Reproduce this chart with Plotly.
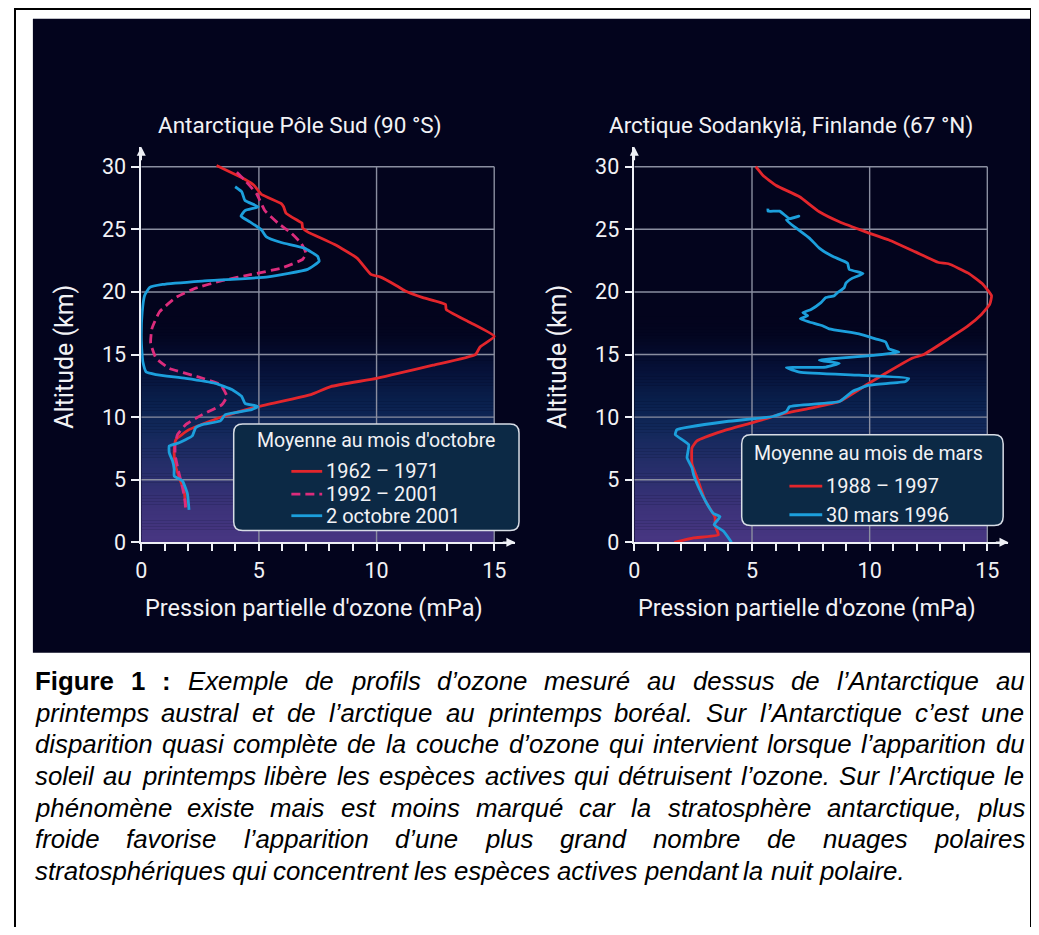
import plotly.graph_objects as go

# Page is 1039x935; the browser body keeps its default 8px margin,
# so the figure sits at page offset 8px.
OFF = 8
FW, FH = 1023, 919

# ---------------- data ----------------
panel_titles = ["Antarctique Pôle Sud (90 °S)", "Arctique Sodankylä, Finlande (67 °N)"]
x_title = "Pression partielle d'ozone (mPa)"
y_title = "Altitude (km)"
x_ticks = [0, 5, 10, 15]
y_ticks = [0, 5, 10, 15, 20, 25, 30]

legend_title_ant = "Moyenne au mois d'octobre"
legend_title_arc = "Moyenne au mois de mars"

ant_names = ["1962 – 1971", "1992 – 2001", "2 octobre 2001"]
arc_names = ["1988 – 1997", "30 mars 1996"]

ant_6271_x = [3.2, 4.4, 4.8, 5.1, 5.95, 6.05, 6.15, 6.65, 6.83, 6.86, 7.07, 8.2, 9.17, 9.76, 10.15,
              10.85, 11.2, 11.97, 12.93, 12.96, 13.93, 15.0, 14.4, 14.2, 12.4, 10.0, 8.05, 7.21, 4.97,
              3.29, 2.03, 1.47, 1.40, 1.44, 1.61, 1.82, 1.89]
ant_6271_y = [30.1, 29.0, 28.5, 27.8, 27.05, 26.8, 26.3, 25.7, 25.5, 25.1, 24.8, 23.8, 22.7, 21.4, 21.2,
              20.5, 20.1, 19.55, 19.0, 18.6, 17.6, 16.45, 15.6, 15.0, 14.15, 13.1, 12.44, 11.8, 10.85,
              9.93, 9.0, 8.2, 7.3, 6.24, 5.18, 4.13, 2.8]

ant_9201_x = [4.06, 4.41, 4.9, 5.25, 5.81, 6.37, 6.79, 7.0, 6.86, 5.95, 4.69, 3.43, 2.31, 1.47, 0.77,
              0.45, 0.40, 0.63, 1.19, 2.45, 3.36, 3.64, 3.43, 2.59, 1.89, 1.54, 1.44, 1.44, 1.58, 1.75,
              1.86, 1.89]
ant_9201_y = [29.55, 28.9, 27.85, 26.5, 25.5, 24.7, 23.9, 23.1, 22.6, 21.9, 21.4, 20.9, 20.3, 19.55, 18.4,
              17.05, 15.9, 14.7, 13.9, 13.2, 12.6, 11.65, 11.0, 10.2, 9.4, 8.6, 7.8, 7.0, 5.7, 4.4,
              3.3, 2.4]

ant_2001_x = [3.99, 4.27, 4.41, 4.97, 4.41, 4.24, 4.62, 5.11, 5.32, 5.95, 6.93, 7.49, 7.56, 7.07, 5.39,
              2.59, 0.91, 0.35, 0.14, 0.04, 0.0, 0.04, 0.07, 0.21, 0.63, 1.89, 3.15, 3.85, 4.27, 4.41,
              4.97, 4.69, 3.57, 3.36, 2.59, 2.31, 2.17, 1.61, 1.19, 1.19, 1.33, 1.40, 1.40, 1.75, 1.96,
              2.03]
ant_2001_y = [28.4, 28.0, 27.3, 26.8, 26.5, 26.05, 25.6, 24.95, 24.4, 23.95, 23.5, 22.85, 22.45, 21.8, 21.2,
              20.87, 20.6, 20.35, 19.7, 18.4, 16.5, 14.95, 14.4, 13.6, 13.4, 13.1, 12.7, 12.2, 11.65, 11.1,
              10.85, 10.6, 10.2, 9.7, 9.4, 9.15, 8.5, 7.95, 7.7, 7.15, 6.5, 5.85, 5.3, 4.9, 3.9,
              2.6]

arc_8897_x = [5.16, 5.47, 6.03, 7.02, 7.86, 8.71, 9.83, 10.82, 11.94, 12.93, 13.35, 14.19, 14.82, 15.18,
              15.1, 14.75, 14.19, 13.35, 12.3, 11.8, 10.68, 9.97, 8.71, 7.44, 6.17, 4.91, 3.78, 2.66,
              2.45, 2.45, 2.66, 3.01, 3.43, 3.43, 3.57, 2.52, 1.7]
arc_8897_y = [30.0, 29.3, 28.5, 27.6, 26.4, 25.6, 24.8, 24.15, 23.2, 22.35, 22.25, 21.5, 20.6, 19.7,
              19.0, 18.2, 17.3, 16.25, 15.0, 14.7, 13.5, 12.7, 11.25, 10.7, 10.2, 9.5, 8.9, 8.1,
              7.55, 6.25, 5.2, 3.35, 2.0, 1.35, 0.6, 0.35, 0.0]

arc_1996_x = [5.68, 5.68, 6.17, 6.6, 6.99, 6.46, 6.88, 7.44, 7.86, 8.42, 9.06, 9.13, 9.72, 9.27, 8.99,
              8.92, 8.64, 8.5, 8.14, 7.93, 7.51, 7.16, 7.37, 7.05, 7.44, 8.0, 8.28, 9.55, 10.25, 10.68,
              10.82, 11.24, 10.25, 7.86, 8.71, 8.14, 6.46, 7.02, 9.55, 11.66, 11.52, 9.97, 9.27, 8.71,
              6.6, 6.46, 5.89, 3.92, 1.81, 1.74, 2.31, 2.24, 2.45, 2.52, 2.73, 3.08, 3.36, 3.64, 3.39,
              3.78, 4.13]
arc_1996_y = [26.65, 26.45, 26.45, 25.85, 26.05, 25.75, 25.1, 24.3, 23.5, 22.85, 22.3, 21.8, 21.47, 21.1, 20.7,
              20.35, 19.95, 19.7, 19.55, 19.15, 18.6, 18.35, 18.1, 17.85, 17.6, 17.3, 17.05, 16.65, 16.25, 16.0,
              15.45, 15.2, 14.95, 14.55, 14.3, 14.0, 13.95, 13.6, 13.35, 13.1, 12.85, 12.55, 12.05, 11.25,
              10.85, 10.45, 10.05, 9.65, 9.0, 8.6, 7.8, 6.75, 5.95, 5.4, 4.4, 3.1, 2.3, 2.05, 1.4,
              0.9, 0.0]

caption_bold = "Figure 1 :"
caption_lines = [
    "Exemple de profils d’ozone mesuré au dessus de l’Antarctique au",
    "printemps austral et de l’arctique au printemps boréal. Sur l’Antarctique c’est une",
    "disparition quasi complète de la couche d’ozone qui intervient lorsque l’apparition du",
    "soleil au printemps libère les espèces actives qui détruisent l’ozone. Sur l’Arctique le",
    "phénomène existe mais est moins marqué car la stratosphère antarctique, plus",
    "froide favorise l’apparition d’une plus grand nombre de nuages polaires",
    "stratosphériques qui concentrent les espèces actives pendant la nuit polaire.",
]

# ---------------- styles ----------------
RED = "#e3262c"
PINK = "#dc2c7c"
BLUE = "#1c9fdc"
PANEL = "#03041d"
GRID = "#8a8ea0"
AXIS = "#eef0f6"
TXT = "#f2f2f5"
FONT = "Roboto"
LEG_FILL = "#0c2945"


def px(x):
    return (x - OFF) / FW


def py(y):
    return 1 - (y - OFF) / FH


SX = 23.67   # px per mPa
SY = 12.7    # px per km
XL0, XR0 = 136, 632
YB = 550
X_MAX, Y_MAX = 15.9, 31.6

fig = go.Figure()

series = [
    ("x", "y", ant_6271_x, ant_6271_y, RED, "solid", ant_names[0]),
    ("x", "y", ant_9201_x, ant_9201_y, PINK, "9px,5px", ant_names[1]),
    ("x", "y", ant_2001_x, ant_2001_y, BLUE, "solid", ant_names[2]),
    ("x2", "y2", arc_8897_x, arc_8897_y, RED, "solid", arc_names[0]),
    ("x2", "y2", arc_1996_x, arc_1996_y, BLUE, "solid", arc_names[1]),
]
for xa, ya, xs, ys, col, dash, nm in series:
    fig.add_trace(go.Scatter(x=xs, y=ys, xaxis=xa, yaxis=ya, mode="lines", name=nm,
                             line=dict(color=col, width=2.8, dash=dash, shape="spline", smoothing=0.4),
                             showlegend=False, hoverinfo="skip"))

shapes = []
# outer frame and dark panel
shapes.append(dict(type="rect", xref="paper", yref="paper", x0=px(9), x1=px(1031), y0=py(990), y1=py(9),
                   line=dict(color="black", width=2), fillcolor="white", layer="below"))
shapes.append(dict(type="rect", xref="paper", yref="paper", x0=px(27), x1=px(1030), y0=py(662), y1=py(19),
                   line=dict(width=0), fillcolor=PANEL, layer="below"))

# vertical gradient in plot areas
stops = [(0.0, (72, 54, 130)), (3.0, (58, 50, 120)), (6.0, (38, 46, 106)), (9.0, (18, 40, 90)),
         (11.0, (10, 33, 78)), (13.5, (6, 18, 58)), (16.5, (3, 5, 32)), (18.0, (3, 4, 29))]


def col_at(v):
    for (a, ca), (b, cb) in zip(stops[:-1], stops[1:]):
        if a <= v <= b:
            t = (v - a) / (b - a)
            c = [round(ca[i] + (cb[i] - ca[i]) * t) for i in range(3)]
            return "rgb(%d,%d,%d)" % tuple(c)
    return "rgb(%d,%d,%d)" % stops[-1][1]


step = 0.25
n = int(18 / step)
for xr, yr in (("x", "y"), ("x2", "y2")):
    for k in range(n):
        y0 = k * step
        shapes.append(dict(type="rect", xref=xr, yref=yr, x0=0, x1=x_ticks[-1], y0=y0, y1=y0 + step + 0.02,
                           line=dict(width=0), fillcolor=col_at(y0 + step / 2), layer="below"))
    for xv in x_ticks[1:]:
        shapes.append(dict(type="line", xref=xr, yref=yr, x0=xv, x1=xv, y0=0, y1=y_ticks[-1],
                           line=dict(color=GRID, width=1.4), layer="below"))
    for yv in y_ticks[1:]:
        shapes.append(dict(type="line", xref=xr, yref=yr, x0=0, x1=x_ticks[-1], y0=yv, y1=yv,
                           line=dict(color=GRID, width=1.4), layer="below"))


def rounded_rect(x0, y0, x1, y1, r):
    rx, ry = r / FW, r / FH
    X0, X1 = px(x0), px(x1)
    Y0, Y1 = py(y1), py(y0)
    return (f"M{X0+rx},{Y0} L{X1-rx},{Y0} Q{X1},{Y0} {X1},{Y0+ry} L{X1},{Y1-ry} Q{X1},{Y1} {X1-rx},{Y1} "
            f"L{X0+rx},{Y1} Q{X0},{Y1} {X0},{Y1-ry} L{X0},{Y0+ry} Q{X0},{Y0} {X0+rx},{Y0} Z")


shapes.append(dict(type="path", xref="paper", yref="paper", path=rounded_rect(229, 430, 516, 538, 9),
                   fillcolor=LEG_FILL, line=dict(color="#d8dde6", width=1.5), layer="above"))
shapes.append(dict(type="path", xref="paper", yref="paper", path=rounded_rect(740, 441, 1003, 533, 9),
                   fillcolor=LEG_FILL, line=dict(color="#d8dde6", width=1.5), layer="above"))

annotations = []


def txt(x, y, s, size, xanchor="center", yanchor="middle", angle=0, color=TXT, family=FONT):
    annotations.append(dict(x=px(x), y=py(y), xref="paper", yref="paper", text=s, showarrow=False,
                            xanchor=xanchor, yanchor=yanchor, textangle=angle,
                            font=dict(family=family, size=size, color=color)))


# legends
leg_ant = [(ant_names[0], RED, "solid", 478), (ant_names[1], PINK, "9px,5px", 501), (ant_names[2], BLUE, "solid", 523)]
txt(372, 447, legend_title_ant, 19.5)
for name, c, d, yy in leg_ant:
    shapes.append(dict(type="line", xref="paper", yref="paper", x0=px(287), x1=px(318), y0=py(yy), y1=py(yy),
                       line=dict(color=c, width=2.8, dash=d), layer="above"))
    txt(320, yy, name, 20, xanchor="left")

leg_arc = [(arc_names[0], RED, "solid", 493), (arc_names[1], BLUE, "solid", 522)]
txt(868, 460, legend_title_arc, 19.5)
for name, c, d, yy in leg_arc:
    shapes.append(dict(type="line", xref="paper", yref="paper", x0=px(788), x1=px(821), y0=py(yy), y1=py(yy),
                       line=dict(color=c, width=2.8, dash=d), layer="above"))
    txt(823, yy, name, 20, xanchor="left")

# panel titles and axis titles
txt(296, 127, panel_titles[0], 22.5)
txt(790, 127, panel_titles[1], 22.5)
txt(310, 617, x_title, 23.5)
txt(806, 617, x_title, 23.5)
txt(59, 362, y_title, 25, angle=-90)
txt(555, 362, y_title, 25, angle=-90)

# axis arrows
for xr, yr in (("x", "y"), ("x2", "y2")):
    annotations.append(dict(x=0, y=Y_MAX, ax=0, ay=Y_MAX - 1.2, xref=xr, yref=yr, axref=xr, ayref=yr, text="",
                            showarrow=True, arrowhead=2, arrowsize=1.2, arrowwidth=1.5, arrowcolor=AXIS,
                            standoff=0))
    annotations.append(dict(x=X_MAX, y=0, ax=X_MAX - 0.6, ay=0, xref=xr, yref=yr, axref=xr, ayref=yr, text="",
                            showarrow=True, arrowhead=2, arrowsize=1.2, arrowwidth=1.5, arrowcolor=AXIS,
                            standoff=0))

# ---------------- justified caption ----------------
# Arial / Liberation Sans advance widths (1/1000 em)
W_REG = {" ": 278, "’": 222, "'": 191, ",": 278, ".": 278, ":": 278, "1": 556, "-": 333}
for ch in "abdeghnopquéèêëàâäôöüû":
    W_REG[ch] = 556
for ch in "cksvxyzç":
    W_REG[ch] = 500
W_REG.update({"f": 278, "t": 278, "i": 222, "j": 222, "l": 222, "î": 278, "m": 833, "r": 333, "w": 722,
              "A": 667, "E": 667, "S": 667, "F": 611, "T": 611})
W_BOLD = {"F": 611, "i": 278, "g": 611, "u": 611, "r": 389, "e": 556, " ": 278, "1": 556, ":": 333}


def width(s, table):
    return sum(table.get(ch, 556) for ch in s) / 1000.0


CAP_SIZE = 25.8
LEFT, RIGHT = 28, 1023
CAP_FONT = "Liberation Sans, Arial"

for i, line in enumerate(caption_lines):
    yy = 691 + 32 * i
    words = [(w, False) for w in line.split(" ")]
    if i == 0:
        words = [(w, True) for w in caption_bold.split(" ")] + words
    justify = i < len(caption_lines) - 1
    widths = [width(w, W_BOLD if b else W_REG) * CAP_SIZE for w, b in words]
    if justify:
        gap = max((RIGHT - LEFT - sum(widths)) / (len(words) - 1), 0.2 * CAP_SIZE)
    else:
        gap = 0.278 * CAP_SIZE
    x = LEFT
    for (w, b), wd in zip(words, widths):
        t = f"<b>{w}</b>" if b else f"<i>{w}</i>"
        annotations.append(dict(x=px(x), y=py(yy), xref="paper", yref="paper", text=t,
                                showarrow=False, xanchor="left", yanchor="middle", borderpad=0,
                                font=dict(family=CAP_FONT, size=CAP_SIZE, color="black")))
        x += wd + gap

xa_common = dict(range=[0, X_MAX], tickvals=x_ticks, showgrid=False,
                 zeroline=False, showline=True, linecolor=AXIS, linewidth=1.5, ticks="outside",
                 ticklen=7, tickwidth=1.5, tickcolor=AXIS, ticklabelstandoff=1,
                 minor=dict(dtick=1, ticks="outside", ticklen=7, tickwidth=1.5, tickcolor=AXIS, showgrid=False),
                 tickfont=dict(family=FONT, size=21.5, color=TXT), fixedrange=True)
ya_common = dict(range=[0, Y_MAX], tickvals=y_ticks, showgrid=False,
                 zeroline=False, showline=True, linecolor=AXIS, linewidth=1.5, ticks="outside",
                 ticklen=8, tickwidth=1.5, tickcolor=AXIS, ticklabelstandoff=1,
                 tickfont=dict(family=FONT, size=21.5, color=TXT), fixedrange=True)

fig.update_layout(
    width=FW, height=FH, autosize=False,
    margin=dict(l=0, r=0, t=0, b=0, pad=0),
    paper_bgcolor="white", plot_bgcolor=PANEL,
    showlegend=False,
    xaxis=dict(domain=[px(XL0), px(XL0 + X_MAX * SX)], anchor="y", **xa_common),
    yaxis=dict(domain=[py(YB), py(YB - Y_MAX * SY)], anchor="x", **ya_common),
    xaxis2=dict(domain=[px(XR0), px(XR0 + X_MAX * SX)], anchor="y2", **xa_common),
    yaxis2=dict(domain=[py(YB), py(YB - Y_MAX * SY)], anchor="x2", **ya_common),
    shapes=shapes,
    annotations=annotations,
)

fig.write_html("out.html", config={"displayModeBar": False})
